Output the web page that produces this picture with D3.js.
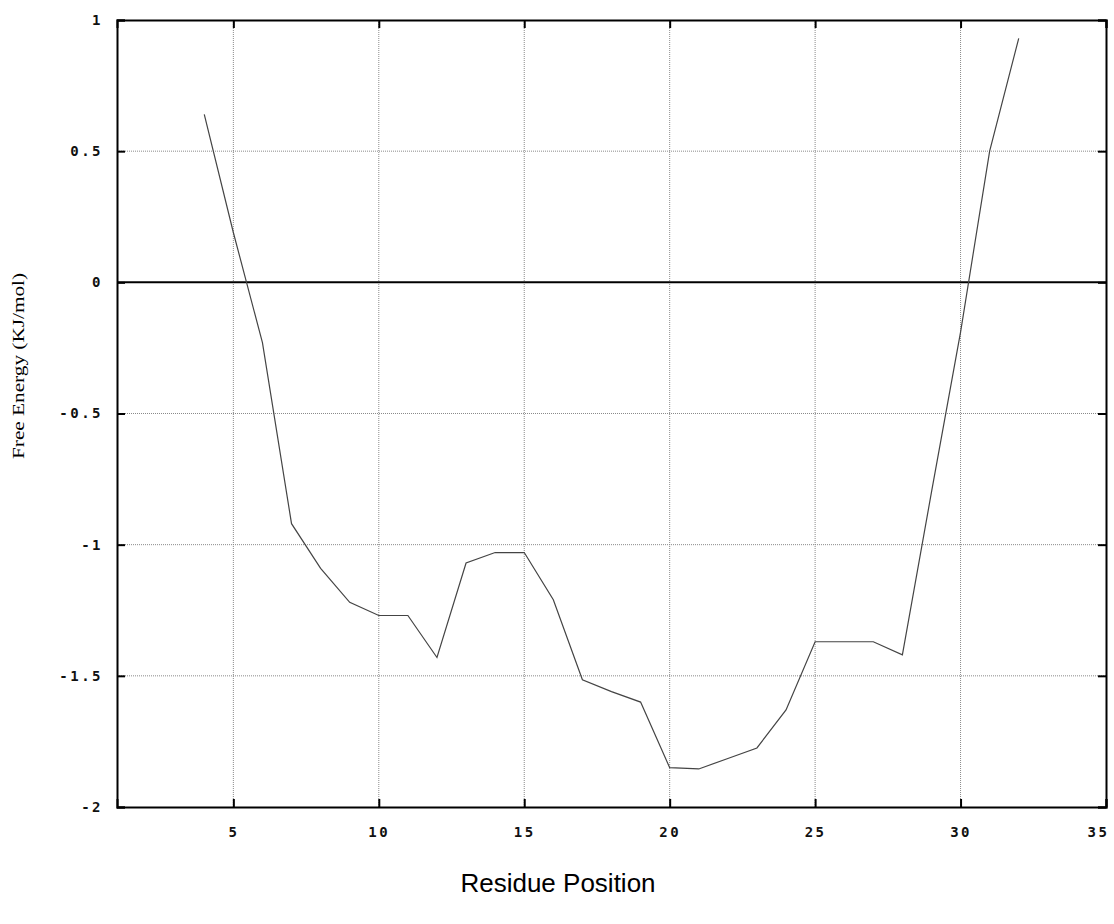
<!DOCTYPE html>
<html>
<head>
<meta charset="utf-8">
<script src="https://cdn.jsdelivr.net/npm/d3@7"></script>
<style>
  body { margin: 0; background: #fff; }
  .tick text { font-family: "DejaVu Sans Mono", monospace; font-size: 14px; font-weight: bold; letter-spacing: 2.5px; fill: #111; }
</style>
</head>
<body>
<svg width="1114" height="924"></svg>
<script>
// residue positions and free energy values
var residues = [4, 5, 6, 7, 8, 9, 10, 11, 12, 13, 14, 15, 16, 17, 18,
	19, 20, 21, 22, 23, 24, 25, 26, 27, 28, 29, 30, 31, 32];
var energy = [0.64, 0.19, -0.23, -0.92, -1.09, -1.22, -1.27, -1.27, -1.43, -1.07, -1.03, -1.03, -1.21, -1.515, -1.56,
	-1.60, -1.85, -1.855, -1.815, -1.775, -1.63, -1.37, -1.37, -1.37, -1.42, -0.8, -0.19, 0.5, 0.93];
var xTicks = [5, 10, 15, 20, 25, 30, 35];
var yTicks = [1, 0.5, 0, -0.5, -1, -1.5, -2];

function drawPlot() {
	var margin = {left: 117, top: 20, right: 8, bottom: 117};
	var svg = d3.select("svg");
	var width = svg.attr("width") - margin.left - margin.right,
		height = svg.attr("height") - margin.top - margin.bottom;

	var x = d3.scaleLinear().domain([1, 35]).range([0, width]);
	var y = d3.scaleLinear().domain([-2, 1]).range([height, 0]);

	var grp = svg.append("g")
		.attr("transform", "translate(" + margin.left + "," + margin.top + ")");

	// dotted grid
	grp.selectAll("line.vgrid").data(xTicks.filter(d => d < 35))
		.enter().append("line")
		.attr("x1", d => x(d)).attr("x2", d => x(d))
		.attr("y1", 0).attr("y2", height)
		.attr("stroke", "#8a8a8a").attr("stroke-width", 1)
		.attr("stroke-dasharray", "1,1");
	grp.selectAll("line.hgrid").data(yTicks.filter(d => d != 0 && d > -2 && d < 1))
		.enter().append("line")
		.attr("x1", 0).attr("x2", width)
		.attr("y1", d => y(d)).attr("y2", d => y(d))
		.attr("stroke", "#8a8a8a").attr("stroke-width", 1)
		.attr("stroke-dasharray", "1,1");

	// zero line
	grp.append("line")
		.attr("x1", 0).attr("x2", width)
		.attr("y1", y(0)).attr("y2", y(0))
		.attr("stroke", "#000").attr("stroke-width", 2);

	// axes with inward ticks on all four sides
	var fmt = d => (d === 0 ? "0" : String(d));
	var xAxis = grp.append("g")
		.attr("transform", "translate(0," + height + ")")
		.call(d3.axisBottom(x).tickValues(xTicks).tickSize(-8).tickPadding(20).tickFormat(fmt));
	// keep the last label inside the page
	xAxis.selectAll(".tick text").filter(d => d === 35).attr("dx", "-8");
	grp.append("g")
		.call(d3.axisTop(x).tickValues(xTicks).tickSize(-8).tickFormat(""));
	grp.append("g")
		.call(d3.axisLeft(y).tickValues(yTicks).tickSize(-8).tickPadding(14).tickFormat(fmt));
	grp.append("g")
		.attr("transform", "translate(" + width + ",0)")
		.call(d3.axisRight(y).tickValues(yTicks).tickSize(-8).tickFormat(""));
	grp.selectAll(".domain").attr("stroke", "#000").attr("stroke-width", 2);
	grp.selectAll(".tick line").attr("stroke", "#000").attr("stroke-width", 2);

	// curve
	var pts = residues.map((r, i) => [r, energy[i]]);
	grp.append("path")
		.datum(pts)
		.attr("fill", "none")
		.attr("stroke", "#444")
		.attr("stroke-width", 1.2)
		.attr("d", d3.line().x(d => x(d[0])).y(d => y(d[1])));

	// axis titles
	svg.append("text")
		.attr("transform", "translate(24,366)rotate(-90)")
		.attr("text-anchor", "middle")
		.attr("textLength", 186)
		.attr("lengthAdjust", "spacingAndGlyphs")
		.style("font-family", "'Liberation Serif', serif")
		.style("font-size", "17px")
		.text("Free Energy (KJ/mol)");
	svg.append("text")
		.attr("x", 558).attr("y", 892)
		.attr("text-anchor", "middle")
		.style("font-family", "'Liberation Sans', Arial, sans-serif")
		.style("font-size", "26px")
		.text("Residue Position");
}
drawPlot();
</script>
</body>
</html>
